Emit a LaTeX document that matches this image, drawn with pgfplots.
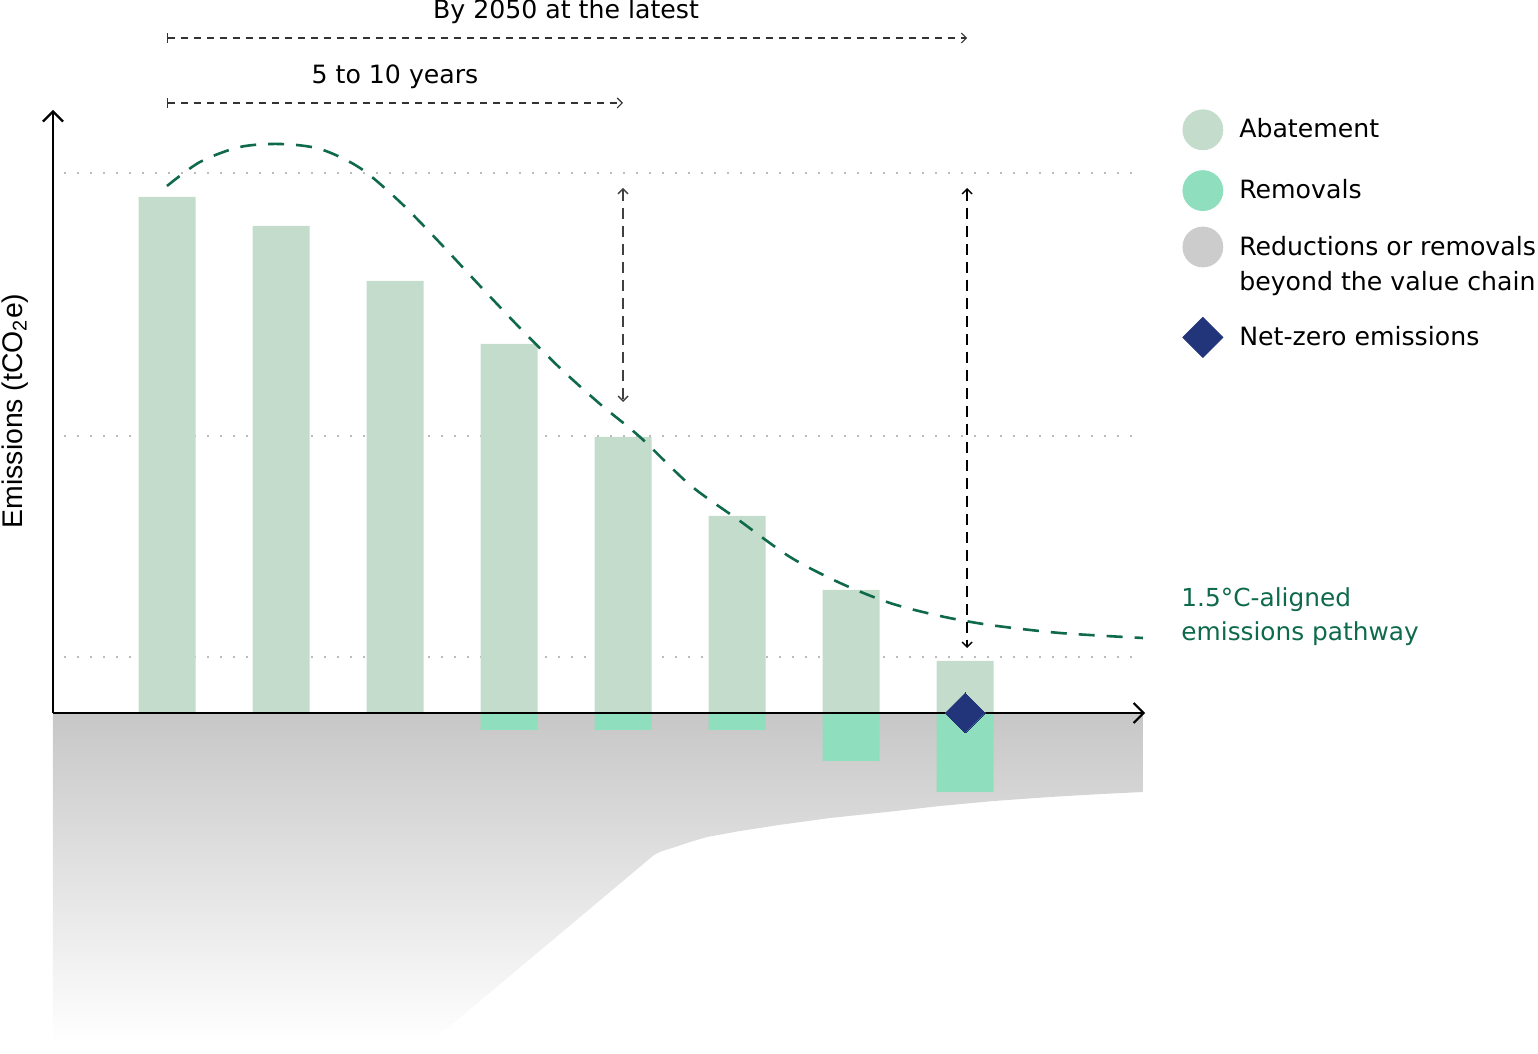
\documentclass[border=0pt]{standalone}
\usepackage{fontspec}
\setmainfont{DejaVu Sans}
\newfontfamily\libsans{Liberation Sans}
\usepackage{pgfplots}
\pgfplotsset{compat=1.18}
\usetikzlibrary{arrows.meta}
\definecolor{abate}{HTML}{C4DCCB}
\definecolor{remov}{HTML}{8FDFBF}
\definecolor{beyond}{HTML}{CCCCCC}
\definecolor{navy}{HTML}{22357A}
\definecolor{pathg}{HTML}{0E6A4B}
\definecolor{gridc}{HTML}{BBBBBB}
\begin{document}
\begin{tikzpicture}[x=1pt,y=1pt]
\useasboundingbox (-26.5,-5.5) rectangle (742.5,521.5);
\begin{axis}[
  at={(0,0)}, anchor=south west,
  x=57pt, y=0.5pt,
  xmin=0, xmax=9.561, ymin=-330, ymax=601,
  hide axis, clip=false,
  legend cell align=left,
  legend style={at={(axis cs:9.904,604)}, anchor=north west, draw=none, fill=none,
    inner sep=0pt, row sep=10pt, column sep=8pt,
    font=\fontsize{12.6}{17.5}\selectfont,
    nodes={inner sep=0pt, align=left}},
]
% beyond the value chain area
\addplot[draw=none, top color=black!22, bottom color=white, forget plot] coordinates {
 (0,0) (9.561,0) (9.561,-79) (9.202,-81) (8.746,-84) (8.254,-88) (7.781,-93) (7.316,-99)
 (6.816,-105) (6.368,-112) (6.026,-118) (5.737,-124) (5.588,-129) (5.430,-135)
 (5.333,-138.5) (5.272,-142) (3.307,-330) (0,-330)} -- cycle;
% gridlines
\draw[gridc, line width=0.7pt, dash pattern=on 0.7pt off 5.8pt] (axis cs:0.1,540) -- (axis cs:9.561,540);
\draw[gridc, line width=0.7pt, dash pattern=on 0.7pt off 5.8pt] (axis cs:0.1,277) -- (axis cs:9.561,277);
\draw[gridc, line width=0.7pt, dash pattern=on 0.7pt off 5.8pt] (axis cs:0.1,56) -- (axis cs:9.561,56);
% abatement
\addplot[ybar, bar width=0.5, bar shift=0pt, fill=abate, draw=none, forget plot] coordinates {
 (1,516) (2,487) (3,432) (4,369) (5,276) (6,197) (7,123) (8,52)};
% removals
\addplot[ybar, bar width=0.5, bar shift=0pt, fill=remov, draw=none, forget plot] coordinates {
 (4,-17) (5,-17) (6,-17) (7,-48) (8,-79)};
% pathway
\addplot[smooth, pathg, line width=1.3pt, dash pattern=on 8pt off 6pt, forget plot] coordinates {
 (1.000,527) (1.289,551) (1.640,566) (1.991,569) (2.342,564) (2.693,545) (3.044,511)
 (3.395,470) (3.746,427) (4.096,385) (4.447,345) (4.798,309) (5.149,276) (5.588,228)
 (6.026,192) (6.465,156) (6.904,130) (7.342,110) (7.781,97) (8.219,88) (8.833,80) (9.561,75)};
% axes
\draw[line width=1.1pt, -{Straight Barb[length=5pt, width=10pt]}] (axis cs:0,0) -- (axis cs:0,603);
\draw[line width=1.1pt, -{Straight Barb[length=5pt, width=10pt]}] (axis cs:0,0) -- (axis cs:9.58,0);
% net zero
\addplot[only marks, navy, mark=square*, mark size=7.07pt, mark options={rotate=45, fill=navy, draw=navy, line width=0pt}, forget plot] coordinates {(8,0)};
% vertical arrows
\draw[black!75, line width=0.7pt, dash pattern=on 5.5pt off 3.5pt, {Straight Barb[length=2.5pt,width=5pt]}-{Straight Barb[length=2.5pt,width=5pt]}] (axis cs:5,525) -- (axis cs:5,311);
\draw[black, line width=0.7pt, dash pattern=on 5.5pt off 3.5pt, {Straight Barb[length=2.5pt,width=5pt]}-{Straight Barb[length=2.5pt,width=5pt]}] (axis cs:8.018,525) -- (axis cs:8.018,65);
% horizontal arrows
\draw[black!80, line width=0.55pt, dash pattern=on 3.5pt off 3pt, {Bar[width=5pt]}-{Straight Barb[length=2.5pt,width=5pt]}] (axis cs:1,675) -- (axis cs:8.018,675);
\draw[black!80, line width=0.55pt, dash pattern=on 3.5pt off 3pt, {Bar[width=5pt]}-{Straight Barb[length=2.5pt,width=5pt]}] (axis cs:1,610) -- (axis cs:5,610);
\node[font=\fontsize{12.6}{15}\selectfont] at (axis cs:4.5,701) {By 2050 at the latest};
\node[font=\fontsize{12.6}{15}\selectfont] at (axis cs:3.0,636) {5 to 10 years};
% pathway label
\node[anchor=west, align=left, text=pathg, inner sep=0pt, font=\fontsize{12.4}{17}\selectfont] at (axis cs:9.895,96) {1.5°C-aligned\\emissions pathway};
% y label
\node[rotate=90, font=\libsans\fontsize{14.2}{16}\selectfont] at (axis cs:-0.333,302) {Emissions (tCO\textsubscript{2}e)};
% legend
\addlegendimage{legend image code/.code={\fill[abate] (10pt,0pt) circle (10pt);}}
\addlegendentry{Abatement}
\addlegendimage{legend image code/.code={\fill[remov] (10pt,0pt) circle (10pt);}}
\addlegendentry{Removals}
\addlegendimage{legend image code/.code={\fill[beyond, overlay] (10pt,8.75pt) circle (10pt);\path[draw=none, fill=none] (0pt,-16.25pt) rectangle (20pt,16.75pt);}}
\addlegendentry{Reductions or removals\\beyond the value chain}
\addlegendimage{legend image code/.code={\fill[navy] (0pt,0pt) -- (10pt,10pt) -- (20pt,0pt) -- (10pt,-10pt) -- cycle;}}
\addlegendentry{Net-zero emissions}
\end{axis}
\end{tikzpicture}
\end{document}
